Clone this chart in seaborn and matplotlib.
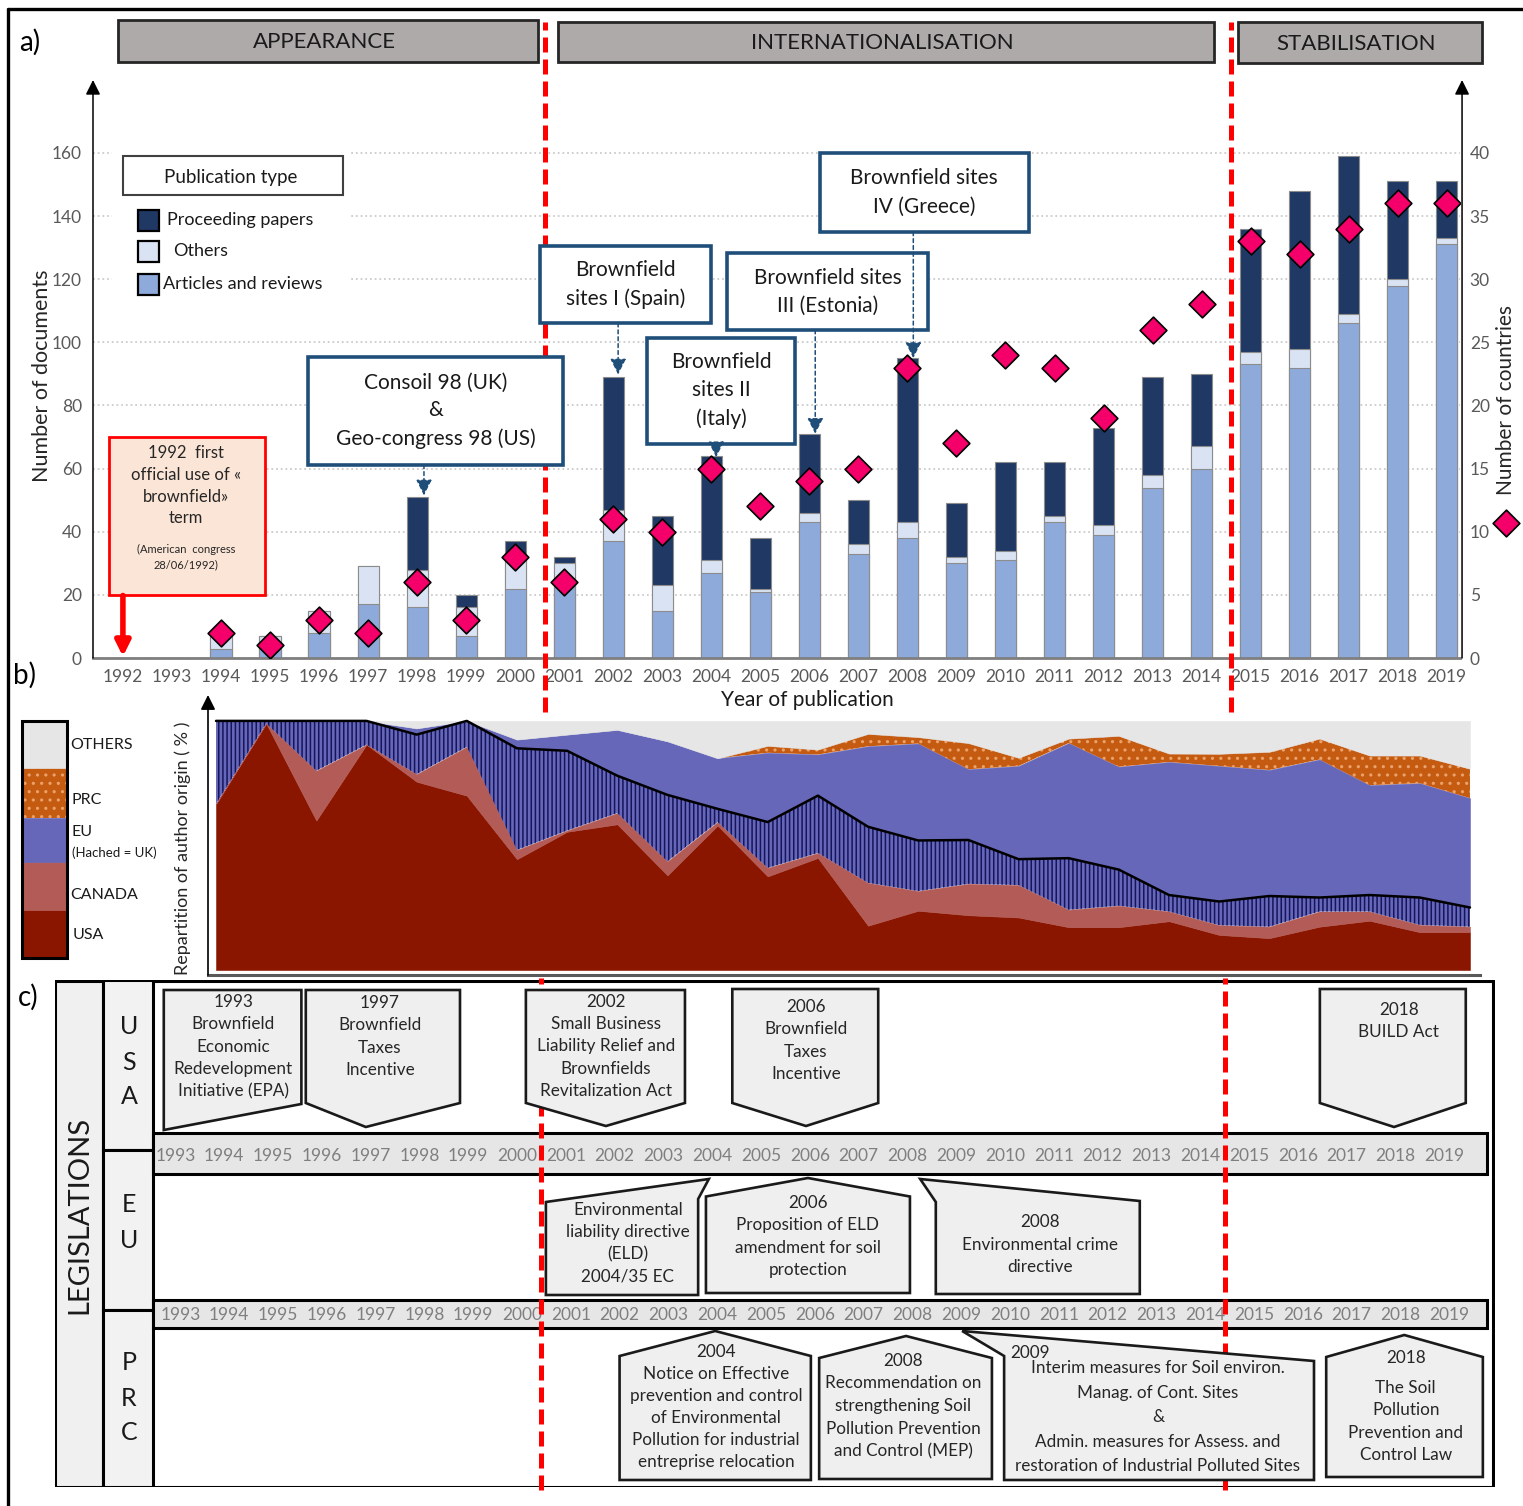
import numpy as np
import matplotlib
matplotlib.use("Agg")
import matplotlib.pyplot as plt
import seaborn as sns
from matplotlib.patches import Rectangle, Polygon

# ---------------- data : panel a ----------------
years = list(range(1992, 2020))
articles = [0, 0, 3, 5, 8, 17, 16, 7, 22, 25, 37, 15, 27, 21, 43, 33, 38, 30, 31, 43,
            39, 54, 60, 93, 92, 106, 118, 131]
others = [0, 0, 4, 2, 7, 12, 12, 9, 11, 5, 10, 8, 4, 1, 3, 3, 5, 2, 3, 2,
          3, 4, 7, 4, 6, 3, 2, 2]
proceedings = [0, 0, 0, 0, 0, 0, 23, 4, 4, 2, 42, 22, 33, 16, 25, 14, 52, 17, 28, 17,
               31, 31, 23, 39, 50, 50, 31, 18]
countries = [np.nan, np.nan, 2, 1, 3, 2, 6, 3, 8, 6, 11, 10, 15, 12, 14, 15, 23, 17, 24, 23,
             19, 26, 28, 33, 32, 34, 36, 36]

phase_names = ["APPEARANCE", "INTERNATIONALISATION", "STABILISATION"]
phase_breaks = [2000.5, 2014.5]

conf_labels = ["Consoil 98 (UK)\n&\nGeo-congress 98 (US)", "Brownfield\nsites I (Spain)",
               "Brownfield\nsites II\n(Italy)", "Brownfield sites\nIII (Estonia)",
               "Brownfield sites\nIV (Greece)"]
conf_years = [1998, 2002, 2004, 2006, 2008]

# ---------------- data : panel b (share of author origin, %) ----------------
origin_years = list(range(1994, 2020))
usa = [66.7, 99, 60, 90.5, 75.6, 70, 44.5, 55.5, 58.5, 38, 58, 37.6, 45, 17.8, 23.8, 22,
       21.1, 17.2, 17.2, 19.6, 14.1, 12.8, 17.4, 19.8, 15.2, 15.2]
canada = [0, 0, 20, 0, 3, 19.6, 3.7, 0.5, 4.5, 5.6, 1.4, 3.4, 2, 17.2, 7.9, 12.6,
          13, 7, 8.6, 3.9, 3.9, 4.6, 6.1, 3.7, 2.9, 2.2]
uk = [33.3, 1, 20, 9.5, 15.9, 10.4, 40.8, 32, 15, 26.7, 5.3, 18.4, 23, 22.5, 20.3, 17.6,
      10.4, 20.7, 14.5, 6.6, 9.5, 12.3, 5.6, 6.6, 11, 7.7]
eu_other = [0, 0, 0, 0, 2.5, 0, 3.5, 6.5, 18.4, 21.5, 20.3, 27.8, 16.5, 32.3, 38.9, 28.4,
            37.4, 46.2, 41.3, 53.4, 54.4, 50.6, 55.4, 44.1, 45.9, 43.9]
prc = [0, 0, 0, 0, 0, 0, 0, 0, 0, 0, 0, 2.8, 2, 5, 2.6, 10.5, 3.3, 1.8, 12.4, 3.4,
       4.9, 7.3, 8.4, 11.9, 11.1, 11.8]
origin_names = ["USA", "CANADA", "EU", "PRC", "OTHERS"]

# ---------------- data : panel c (legislations) ----------------
timeline_years = list(range(1993, 2020))
usa_laws = ["1993\nBrownfield\nEconomic\nRedevelopment\nInitiative (EPA)",
            "1997\nBrownfield\nTaxes\nIncentive",
            "2002\nSmall Business\nLiability Relief and\nBrownfields\nRevitalization Act",
            "2006\nBrownfield\nTaxes\nIncentive",
            "2018\nBUILD Act"]
eu_laws = ["Environmental\nliability directive\n(ELD)\n2004/35 EC",
           "2006\nProposition of ELD\namendment for soil\nprotection",
           "2008\nEnvironmental crime\ndirective"]
prc_laws = ["2004\nNotice on Effective\nprevention and control\nof Environmental\nPollution for industrial\nentreprise relocation",
            "2008\nRecommendation on\nstrengthening Soil\nPollution Prevention\nand Control (MEP)",
            "Interim measures for Soil environ.\nManag. of Cont. Sites\n&\nAdmin. measures for Assess. and\nrestoration of Industrial Polluted Sites",
            "2018\nThe Soil\nPollution\nPrevention and\nControl Law"]

# ---------------- style ----------------
sns.set_theme(style="white")
plt.rcParams["font.family"] = ["Lato", "DejaVu Sans"]
plt.rcParams["hatch.linewidth"] = 1.1

C_ART, C_OTH, C_PRO = "#8eaadb", "#dae3f3", "#1f3864"
C_DIA = "#f5006a"
C_USA, C_CAN, C_EU, C_PRC, C_OTHS = "#8b1600", "#b35c57", "#6767b9", "#c55a11", "#e6e6e6"
BLUE_BOX = "#1f4e79"
GREY_TXT = "#595959"
RED = "#ff0000"

W, H = 1523, 1506
fig = plt.figure(figsize=(W / 100, H / 100), dpi=100)


def fr(l, t, r, b):
    return [l / W, 1 - b / H, (r - l) / W, (b - t) / H]


bg = fig.add_axes([0, 0, 1, 1])
bg.set_xlim(0, W)
bg.set_ylim(H, 0)
bg.axis("off")

# outer frame (top and left)
bg.plot([8, W], [9, 9], color="black", lw=2.4)
bg.plot([8, 8], [9, H], color="black", lw=2.4)

# panel letters
for t, (x, y) in zip(["a)", "b)", "c)"], [(30, 42), (25, 675), (28, 997)]):
    bg.text(x, y, t, fontsize=20, ha="center", va="center", color="black")

# phase banners
banner_px = [(118, 20, 538, 62), (558, 22, 1214, 62), (1238, 22, 1482, 63)]
for name, (l, t, r, b) in zip(phase_names, banner_px):
    bg.add_patch(Rectangle((l, t), r - l, b - t, facecolor="#aeaaaa", edgecolor="#262626", lw=2))
    bg.text((l + r) / 2 - 4, (t + b) / 2 + 1, name, fontsize=16, ha="center", va="center", color="#1a1a1a")

# ---------------- panel a ----------------
ax = fig.add_axes(fr(93, 80, 1460, 658))
ax.set_facecolor("none")
tot_ao = [a + o for a, o in zip(articles, others)]
tot_all = [a + o + p for a, o, p in zip(articles, others, proceedings)]
for vals, col in [(tot_all, C_PRO), (tot_ao, C_OTH), (articles, C_ART)]:
    sns.barplot(x=years, y=vals, native_scale=True, width=0.43, color=col, saturation=1,
                edgecolor="#8c8c8c", linewidth=0.8, errorbar=None, ax=ax, zorder=2)
ax.set_xlim(1991.39, 2019.27)
ax.set_ylim(0, 183.1)
ax.set_xticks(years)
ax.set_xticklabels([str(y) for y in years])
ax.set_yticks(range(0, 161, 20))
ax.tick_params(axis="x", length=0, pad=8, labelsize=12.5, labelcolor=GREY_TXT)
ax.tick_params(axis="y", length=0, pad=8, labelsize=12.5, labelcolor=GREY_TXT)
ax.set_xlabel("")
ax.set_ylabel("")
ax.set_axisbelow(True)
ax.yaxis.grid(True, color="#cccccc", linestyle=(0, (1, 1.6)), lw=1.3)
ax.xaxis.grid(False)
for s in ["top", "left", "right"]:
    ax.spines[s].set_visible(False)
ax.spines["bottom"].set_color("#7f7f7f")
ax.spines["bottom"].set_linewidth(2)
for xf in (0, 1.0015):
    ax.annotate("", xy=(xf, 1), xycoords="axes fraction", xytext=(xf, 0), textcoords="axes fraction",
                arrowprops=dict(arrowstyle="-|>", color="black", lw=1.1, mutation_scale=22,
                                shrinkA=0, shrinkB=0), annotation_clip=False)

# phase separators (panel a part)
for xb in phase_breaks:
    ax.axvline(xb + 0.1, ymin=-0.0934, ymax=1.1003, color=RED, lw=3.6, ls=(0, (3, 1.4)),
               zorder=3, clip_on=False)

ax_r = ax.twinx()
ax_r.set_ylim(0, 183.1 / 4)
sns.scatterplot(x=years, y=countries, marker="D", s=185, color=C_DIA, edgecolor="black",
                linewidth=1.2, ax=ax_r, zorder=5, legend=False)
ax_r.set_yticks(range(0, 41, 5))
ax_r.tick_params(axis="y", length=0, pad=7, labelsize=12.5, labelcolor=GREY_TXT)
ax_r.set_ylabel("")
ax_r.grid(False)
for s in ax_r.spines.values():
    s.set_visible(False)

# conference callouts (box extents in data units: left, right, bottom, top ; arrow x ; arrow tip)
conf_layout = [(1995.78, 2000.98, 61.2, 95.4, 1998.14, 51.5),
               (2000.51, 2004.00, 106.1, 130.5, 2002.10, 89.8),
               (2002.69, 2005.71, 67.8, 101.4, 2004.10, 63.6),
               (2004.33, 2008.43, 103.9, 128.3, 2006.12, 71.0),
               (2006.22, 2010.47, 135.0, 160.0, 2008.12, 95.0)]
for lab, (l, r, b, t, xa, tip) in zip(conf_labels, conf_layout):
    ax.add_patch(Rectangle((l, b), r - l, t - b, facecolor="white", edgecolor=BLUE_BOX,
                           lw=2.6, zorder=6, clip_on=False))
    ax.text((l + r) / 2, (b + t) / 2, lab, ha="center", va="center", fontsize=15,
            linespacing=1.5, color="#1a1a1a", zorder=7)
    ax.annotate("", xy=(xa, tip), xytext=(xa, b),
                arrowprops=dict(arrowstyle="-|>", color=BLUE_BOX, lw=1.1, ls=(0, (2.5, 2)),
                                mutation_scale=24, shrinkA=0, shrinkB=0), zorder=6)

# 1992 box
ax.add_patch(Rectangle((1991.71, 19.8), 3.19, 50.3, facecolor="#fbe5d6", edgecolor=RED, lw=2, zorder=6))
ax.text(1993.29, 67.5, "1992  first\nofficial use of «\nbrownfield»\nterm", ha="center", va="top",
        fontsize=12, linespacing=1.45, color="#262626", zorder=7)
ax.text(1993.29, 36.2, "(American  congress\n28/06/1992)", ha="center", va="top", fontsize=8,
        linespacing=1.45, color="#262626", zorder=7)
ax.annotate("", xy=(1992, 0.5), xytext=(1992, 19.8),
            arrowprops=dict(arrowstyle="-|>", color=RED, lw=4, mutation_scale=22, shrinkA=0, shrinkB=0),
            zorder=7)

# axis labels for panel a
bg.text(42, 376, "Number of documents", rotation=90, ha="center", va="center", fontsize=15.5, color="#262626")
bg.text(1506, 400, "Number of countries", rotation=90, ha="center", va="center", fontsize=15, color="#262626")
bg.scatter([1506], [523], marker="D", s=185, color=C_DIA, edgecolor="black", linewidth=1.2)
bg.text(807, 700, "Year of publication", ha="center", va="center", fontsize=15, color="#1a1a1a")

# ---------------- panel b ----------------
axb = fig.add_axes(fr(208, 695, 1480, 975))
axb.set_facecolor("none")
others_share = [100 - (a + b + c + d + e) for a, b, c, d, e in zip(usa, canada, uk, eu_other, prc)]
layers = [(usa, C_USA, None, C_USA), (canada, C_CAN, None, C_CAN), (uk, C_EU, "||||", "#15155c"),
          (eu_other, C_EU, None, C_EU), (prc, C_PRC, "..", "#eaa26a"), (others_share, C_OTHS, None, C_OTHS)]
lower = np.zeros(len(origin_years))
uk_top = None
for i, (vals, fc, hatch, ec) in enumerate(layers):
    upper = lower + np.array(vals, dtype=float)
    axb.fill_between(origin_years, lower, upper, facecolor=fc, edgecolor=ec, hatch=hatch,
                     linewidth=0 if hatch else 0.4, zorder=2)
    if i == 2:
        uk_top = upper.copy()
    lower = upper
sns.lineplot(x=origin_years, y=uk_top, color="black", linewidth=1.8, ax=axb, zorder=3)
axb.set_xlim(1993.84, 2019.2)
axb.set_ylim(-2.0, 110.4)
axb.set_xticks([])
axb.set_yticks([])
axb.set_xlabel("")
axb.set_ylabel("")
for s in ["top", "right", "left"]:
    axb.spines[s].set_visible(False)
axb.spines["bottom"].set_color("#595959")
axb.spines["bottom"].set_linewidth(2.2)
axb.annotate("", xy=(0, 1), xycoords="axes fraction", xytext=(0, 0), textcoords="axes fraction",
             arrowprops=dict(arrowstyle="-|>", color="black", lw=1.2, mutation_scale=22,
                             shrinkA=0, shrinkB=0), annotation_clip=False)
bg.text(183, 848, "Repartition of author origin ( % )", rotation=90, ha="center", va="center",
        fontsize=13, color="#262626")

# legend bar panel b
seg_px = [(910, 958, C_USA, None, C_USA), (862, 910, C_CAN, None, C_CAN), (818, 862, C_EU, None, C_EU),
          (768, 818, C_PRC, "..", "#eaa26a"), (722, 768, C_OTHS, None, C_OTHS)]
for (t0, t1, fc, hatch, ec) in seg_px:
    bg.add_patch(Rectangle((22, t0), 45, t1 - t0, facecolor=fc, edgecolor=ec, hatch=hatch,
                           lw=0 if hatch else 0.5))
bg.add_patch(Rectangle((22, 721), 45, 237, facecolor="none", edgecolor="black", lw=2.2))
for name, (x, y) in zip(origin_names, [(73, 935), (70, 895), (72, 832), (72, 800), (70, 745)]):
    bg.text(x, y, name, ha="left", va="center", fontsize=11.5, color="#1a1a1a")
bg.text(72, 853, "(Hached = UK)", ha="left", va="center", fontsize=9.5, color="#1a1a1a")

# ---------------- panel c ----------------
axc = fig.add_axes(fr(55, 980, 1495, 1487))
axc.set_xlim(1990.531, 2020.039)
axc.set_ylim(1487, 980)
axc.axis("off")

X0, X1, X2, XR = 1990.531, 1991.514, 1992.539, 2019.87
axc.add_patch(Rectangle((X0, 981), 2019.998 - X0, 506, facecolor="white", edgecolor="black", lw=2.2, zorder=1))
axc.add_patch(Rectangle((X0, 981), X1 - X0, 506, facecolor="#f0f0f0", edgecolor="black", lw=2.2, zorder=2))
axc.text((X0 + X1) / 2, 1215, "LEGISLATIONS", rotation=90, ha="center", va="center", fontsize=21, color="#1a1a1a")
for (t0, t1) in [(980, 1150), (1150, 1310), (1310, 1487)]:
    axc.add_patch(Rectangle((X1, t0), X2 - X1, t1 - t0, facecolor="#f2f2f2", edgecolor="black", lw=2.2, zorder=2))
for letters, ys in [("USA", [1027, 1062, 1097]), ("EU", [1205, 1240]), ("PRC", [1363, 1399, 1433])]:
    for ch, yy in zip(letters, ys):
        axc.text((X1 + X2) / 2 + 0.02, yy, ch, ha="center", va="center", fontsize=18, color="#1a1a1a")

# timelines
for (t0, hgt, yl, dx) in [(1133, 41, 1156, 0.0), (1300, 28, 1315, 0.1)]:
    axc.add_patch(Rectangle((X2, t0), XR - X2, hgt, facecolor="#e6e6e6", edgecolor="black", lw=2.2, zorder=3))
    for yr in timeline_years:
        axc.text(yr + dx, yl, str(yr), ha="center", va="center", fontsize=12.5, color="#7f7f7f", zorder=3.5)

# phase separators (panel c part)
for xb in phase_breaks:
    axc.axvline(xb, ymin=-0.006, ymax=1.004, color=RED, lw=3.6, ls=(0, (3, 1.4)), zorder=4, clip_on=False)

usa_shapes = [[(1992.76, 990), (1995.58, 990), (1995.58, 1104), (1992.76, 1130)],
              [(1995.67, 990), (1998.83, 990), (1998.83, 1103), (1996.90, 1127), (1995.67, 1103)],
              [(2000.18, 990), (2003.44, 990), (2003.44, 1103), (2001.82, 1126), (2000.18, 1103)],
              [(2004.41, 989), (2007.40, 989), (2007.40, 1103), (2005.92, 1126), (2004.41, 1103)],
              [(2016.45, 989), (2019.44, 989), (2019.44, 1103), (2017.97, 1127), (2016.45, 1103)]]
eu_shapes = [[(2000.59, 1202), (2003.93, 1179), (2003.71, 1199), (2003.71, 1295), (2000.59, 1295)],
             [(2003.87, 1196.5), (2005.96, 1178), (2008.05, 1196.5), (2008.05, 1293), (2003.87, 1293)],
             [(2008.26, 1179), (2012.76, 1201), (2012.76, 1294), (2008.58, 1294), (2008.58, 1202)]]
prc_shapes = [[(2002.10, 1356), (2004.06, 1331), (2006.02, 1356), (2006.02, 1480), (2002.10, 1480)],
              [(2006.19, 1358), (2007.97, 1336), (2009.73, 1358), (2009.73, 1479), (2006.19, 1479)],
              [(2009.12, 1331), (2016.33, 1361), (2016.33, 1480), (2009.98, 1480), (2009.98, 1356)],
              [(2016.58, 1357), (2018.18, 1335), (2019.79, 1357), (2019.79, 1477), (2016.58, 1477)]]
# text layout: centre x (years), first line y, line step, extra gap after first line
usa_txt = [(1994.18, 1002, 22.3, 0), (1997.19, 1003, 22.3, 0), (2001.82, 1002, 22.2, 0),
           (2005.92, 1007, 22.3, 0), (2018.07, 1010, 22, 0)]
eu_txt = [(2002.27, 1210, 22.3, 0), (2005.96, 1203, 22.3, 0), (2010.71, 1222, 22.5, 0)]
prc_txt = [(2004.08, 1352, 22, 0), (2007.91, 1361, 22.5, 0), (2013.13, 1368, 24.6, 0),
           (2018.21, 1358, 22.2, 8)]

for shapes, texts, lays in [(usa_shapes, usa_laws, usa_txt), (eu_shapes, eu_laws, eu_txt),
                            (prc_shapes, prc_laws, prc_txt)]:
    for verts, txt, (cx, y0, dy, gap) in zip(shapes, texts, lays):
        axc.add_patch(Polygon(verts, closed=True, facecolor="#efefef", edgecolor="#1a1a1a", lw=1.9, zorder=5))
        for k, line in enumerate(txt.split("\n")):
            yy = y0 + k * dy + (gap if k > 0 else 0)
            axc.text(cx, yy, line, ha="center", va="center", fontsize=12.3, color="#262626", zorder=6)
axc.text(2010.10, 1353, "2009", ha="left", va="center", fontsize=12.3, color="#262626", zorder=6)

# ---------------- legend of panel a (drawn on top of the grid) ----------------
lg = fig.add_axes([0, 0, 1, 1])
lg.set_xlim(0, W)
lg.set_ylim(H, 0)
lg.axis("off")
lg.add_patch(Rectangle((112, 148), 238, 152, facecolor="white", edgecolor="none"))
lg.add_patch(Rectangle((123, 156), 220, 39, facecolor="white", edgecolor="#404040", lw=1.5))
lg.text(231, 177, "Publication type", ha="center", va="center", fontsize=13.5, color="#1a1a1a")
for (yy, col, lab, xt) in [(220, C_PRO, "Proceeding papers", 167), (251, C_OTH, "Others", 173),
                           (284, C_ART, "Articles and reviews", 163)]:
    lg.add_patch(Rectangle((138, yy - 10), 21, 21, facecolor=col, edgecolor="black", lw=1.6))
    lg.text(xt, yy, lab, ha="left", va="center", fontsize=13, color="#1a1a1a")

fig.savefig("out.png", dpi=100)
